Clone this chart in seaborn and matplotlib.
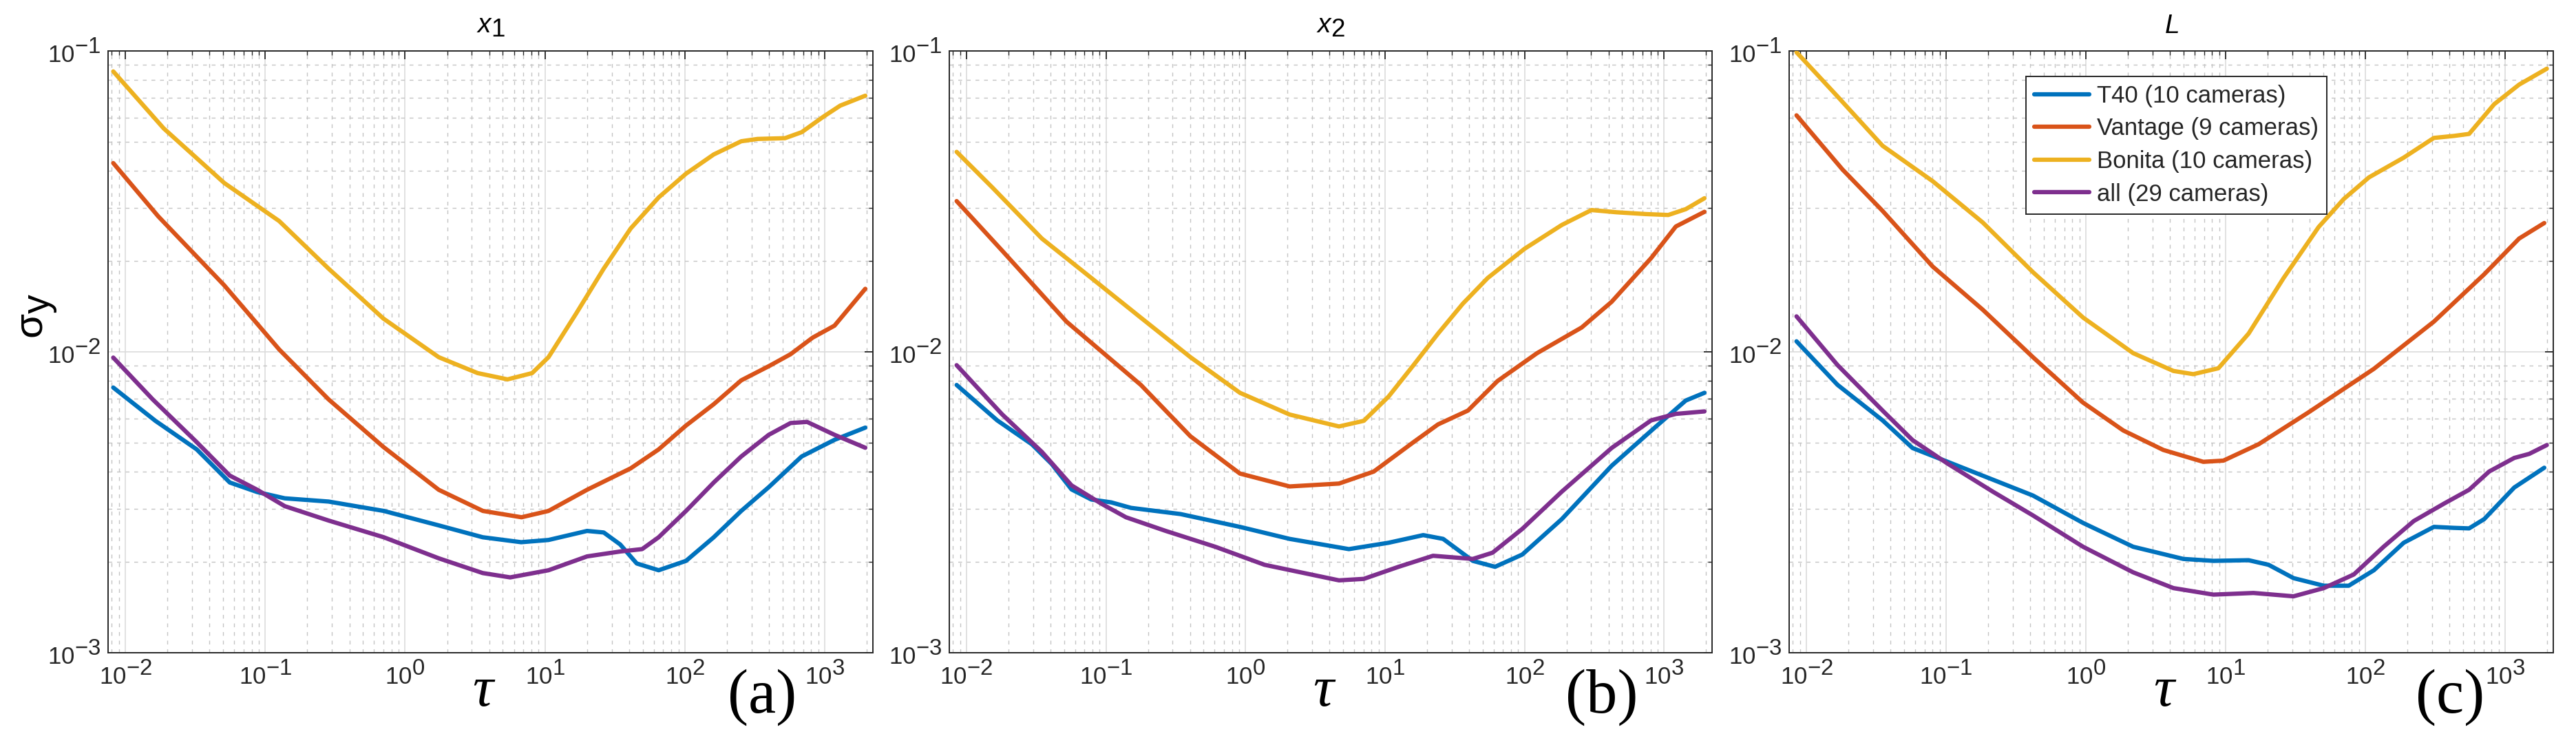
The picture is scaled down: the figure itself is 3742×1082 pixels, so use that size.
import matplotlib
matplotlib.use("Agg")
import matplotlib.pyplot as plt
import matplotlib.ticker as mticker
import numpy as np
import pandas as pd
import seaborn as sns

try:
    import matplotlib._mathtext as _mt
    _mt.SHRINK_FACTOR = 0.95
except Exception:
    pass

# ---------------- data ----------------
series_names = ["T40 (10 cameras)", "Vantage (9 cameras)", "Bonita (10 cameras)", "all (29 cameras)"]
panel_titles = [r"$\mathit{x}_{\mathit{1}}$", r"$\mathit{x}_{\mathit{2}}$", r"$\mathit{L}$"]
panel_tags = ["(a)", "(b)", "(c)"]
ytick_values = [1e-3, 1e-2, 1e-1]
xtick_values = [1e-2, 1e-1, 1e0, 1e1, 1e2, 1e3]

# panel (a): x1
tau_x1_T40 = [0.0082, 0.0164, 0.0324, 0.0558, 0.0877, 0.138, 0.284, 0.704, 1.74, 3.59, 6.76, 10.6, 20, 26.3, 34.5, 45.3, 65, 102, 161, 253, 398, 684, 1175, 1950]
sig_x1_T40 = [0.00761, 0.0059, 0.00474, 0.00368, 0.00342, 0.00326, 0.00318, 0.00296, 0.00265, 0.00242, 0.00233, 0.00237, 0.00254, 0.00251, 0.00229, 0.00198, 0.00188, 0.00202, 0.00242, 0.00296, 0.00355, 0.00449, 0.0051, 0.0056]
tau_x1_Vantage = [0.0082, 0.0172, 0.051, 0.126, 0.284, 0.70, 1.74, 3.6, 6.8, 10.6, 20, 41, 65, 102, 161, 253, 400, 570, 820, 1175, 1950]
sig_x1_Vantage = [0.0424, 0.0282, 0.01663, 0.01018, 0.00695, 0.00483, 0.00348, 0.00296, 0.00282, 0.00296, 0.00348, 0.0041, 0.00474, 0.00569, 0.0067, 0.00804, 0.00897, 0.00982, 0.01115, 0.01222, 0.0162]
tau_x1_Bonita = [0.0082, 0.0188, 0.051, 0.126, 0.284, 0.70, 1.74, 3.3, 5.4, 8.1, 10.6, 16.7, 26.3, 41, 65, 102, 161, 253, 331, 520, 684, 980, 1290, 1950]
sig_x1_Bonita = [0.0855, 0.0553, 0.0364, 0.0272, 0.0189, 0.0129, 0.0096, 0.0085, 0.0081, 0.0085, 0.0096, 0.0134, 0.0189, 0.0257, 0.0326, 0.0391, 0.0453, 0.0501, 0.051, 0.0513, 0.0537, 0.0605, 0.0658, 0.071]
tau_x1_all = [0.0082, 0.0157, 0.0324, 0.0558, 0.0877, 0.138, 0.284, 0.704, 1.74, 3.59, 5.64, 10.6, 20, 34.5, 49.5, 65, 102, 161, 253, 398, 570, 748, 1175, 1950]
sig_x1_all = [0.00957, 0.00695, 0.00501, 0.00388, 0.00348, 0.00307, 0.00275, 0.00242, 0.00206, 0.00184, 0.00178, 0.00188, 0.00209, 0.00217, 0.00221, 0.00242, 0.00296, 0.00368, 0.00449, 0.0053, 0.0058, 0.00585, 0.0053, 0.0048]

# panel (b): x2
tau_x2_T40 = [0.0085, 0.0166, 0.0294, 0.0408, 0.0566, 0.0785, 0.109, 0.151, 0.342, 0.912, 2.07, 5.51, 10.6, 18.8, 26.1, 42.6, 61.5, 96.4, 185, 421, 877, 1432, 1950]
sig_x2_T40 = [0.00776, 0.00592, 0.00493, 0.00424, 0.00349, 0.00323, 0.00316, 0.00303, 0.00289, 0.00262, 0.00239, 0.00221, 0.00232, 0.00246, 0.00239, 0.00202, 0.00193, 0.00212, 0.00278, 0.00418, 0.00565, 0.00689, 0.00731]
tau_x2_Vantage = [0.0085, 0.018, 0.0521, 0.178, 0.403, 0.912, 2.07, 4.68, 8.3, 16, 24, 39.3, 64.1, 123, 257, 421, 809, 1216, 1950]
sig_x2_Vantage = [0.0317, 0.0217, 0.0126, 0.00776, 0.00524, 0.00394, 0.00357, 0.00365, 0.0040, 0.00501, 0.00574, 0.00638, 0.0080, 0.0099, 0.01205, 0.01466, 0.0205, 0.0261, 0.0292]
tau_x2_Bonita = [0.0085, 0.0153, 0.0347, 0.0785, 0.178, 0.403, 0.912, 2.07, 4.68, 7.05, 10.6, 16, 24, 36.1, 54.5, 100, 185, 302, 457, 741, 1072, 1432, 1950]
sig_x2_Bonita = [0.0462, 0.0352, 0.0238, 0.0176, 0.01298, 0.0096, 0.00731, 0.00619, 0.00565, 0.0059, 0.0071, 0.00903, 0.0115, 0.01445, 0.0176, 0.0220, 0.0264, 0.0296, 0.0291, 0.0287, 0.0285, 0.0298, 0.0324]
tau_x2_all = [0.0085, 0.018, 0.0347, 0.0566, 0.0925, 0.139, 0.268, 0.607, 1.37, 4.68, 7.05, 12.5, 22.1, 42.6, 59, 96.4, 185, 421, 809, 1216, 1950]
sig_x2_all = [0.00903, 0.0062, 0.00465, 0.0036, 0.00313, 0.00282, 0.00254, 0.00225, 0.00196, 0.00174, 0.00176, 0.00193, 0.0021, 0.00205, 0.00215, 0.00258, 0.00343, 0.00479, 0.00592, 0.00622, 0.00634]

# panel (c): L
tau_L_T40 = [0.0085, 0.0167, 0.0351, 0.0575, 0.1026, 0.216, 0.418, 0.955, 2.18, 4.98, 8.17, 14.6, 20.3, 30.6, 50.4, 76, 115, 188, 309, 431, 552, 708, 1161, 1905]
sig_L_T40 = [0.01084, 0.00777, 0.00592, 0.00479, 0.00431, 0.00376, 0.00333, 0.0027, 0.00225, 0.00205, 0.00202, 0.00203, 0.00196, 0.00177, 0.00167, 0.00167, 0.00188, 0.00232, 0.00262, 0.0026, 0.00259, 0.00278, 0.00354, 0.00412]
tau_L_Vantage = [0.0085, 0.0181, 0.0351, 0.0802, 0.183, 0.418, 0.955, 1.85, 3.58, 6.92, 9.64, 17.2, 39.3, 115, 309, 708, 1259, 1905]
sig_L_Vantage = [0.0611, 0.0404, 0.0294, 0.0192, 0.0138, 0.0096, 0.00678, 0.00548, 0.00472, 0.00431, 0.00435, 0.00493, 0.0063, 0.00878, 0.0126, 0.0181, 0.0238, 0.0268]
tau_L_Bonita = [0.0085, 0.0167, 0.0351, 0.0802, 0.183, 0.418, 0.955, 2.18, 4.23, 5.87, 8.87, 14.6, 26, 46.3, 70, 106, 188, 309, 431, 552, 834, 1259, 1986]
sig_L_Bonita = [0.099, 0.0706, 0.0484, 0.0369, 0.0269, 0.0184, 0.013, 0.0099, 0.00864, 0.00843, 0.00882, 0.0115, 0.0176, 0.026, 0.0322, 0.038, 0.0442, 0.0514, 0.0522, 0.053, 0.0665, 0.0773, 0.0873]
tau_L_all = [0.0085, 0.0167, 0.0351, 0.0575, 0.1026, 0.216, 0.418, 0.955, 2.18, 4.23, 8.17, 15.8, 30.6, 50.4, 82.6, 135, 222, 365, 552, 767, 1161, 1486, 1986]
sig_L_all = [0.01312, 0.00904, 0.00638, 0.00509, 0.00425, 0.00343, 0.00286, 0.00225, 0.00185, 0.00164, 0.00156, 0.00158, 0.00154, 0.00164, 0.00182, 0.00225, 0.00274, 0.00313, 0.00348, 0.004, 0.00444, 0.00458, 0.0049]

panels = [
    [(tau_x1_T40, sig_x1_T40), (tau_x1_Vantage, sig_x1_Vantage), (tau_x1_Bonita, sig_x1_Bonita), (tau_x1_all, sig_x1_all)],
    [(tau_x2_T40, sig_x2_T40), (tau_x2_Vantage, sig_x2_Vantage), (tau_x2_Bonita, sig_x2_Bonita), (tau_x2_all, sig_x2_all)],
    [(tau_L_T40, sig_L_T40), (tau_L_Vantage, sig_L_Vantage), (tau_L_Bonita, sig_L_Bonita), (tau_L_all, sig_L_all)],
]

colors = ["#0072BD", "#D95319", "#EDB120", "#7E2F8E"]

# ---------------- style ----------------
sns.set_style("white")
plt.rcParams["font.family"] = ["Liberation Sans", "DejaVu Sans"]
plt.rcParams["mathtext.fontset"] = "custom"
plt.rcParams["mathtext.rm"] = "Liberation Sans"
plt.rcParams["mathtext.it"] = "Liberation Sans:italic"
plt.rcParams["mathtext.bf"] = "Liberation Sans:bold"
plt.rcParams["mathtext.sf"] = "Liberation Sans"

W, H = 3742, 1082
fig = plt.figure(figsize=(W / 100, H / 100), dpi=100)
fig.patch.set_facecolor("white")

ax_left_px = [157, 1379, 2599]
ax_width_px = [1111, 1108, 1110]
ax_top_px, ax_bot_px = 74, 948
tag_x = [0.81, 0.808, 0.82]

dark = "#262626"
serif = ["Liberation Serif", "DejaVu Serif"]
LW = 4.5

def log_fmt(v, pos):
    e = int(round(np.log10(v)))
    return r"$\mathregular{10^{%d}}$" % e

axes = []
for i in range(3):
    rect = [ax_left_px[i] / W, (H - ax_bot_px) / H, ax_width_px[i] / W, (ax_bot_px - ax_top_px) / H]
    ax = fig.add_axes(rect)
    axes.append(ax)
    ax.set_xscale("log")
    ax.set_yscale("log")

    frames = []
    for name, (t, s) in zip(series_names, panels[i]):
        frames.append(pd.DataFrame({"tau": t, "sigma": s, "series": name}))
    df = pd.concat(frames, ignore_index=True)

    sns.lineplot(data=df, x="tau", y="sigma", hue="series", hue_order=series_names,
                 palette=colors, estimator=None, sort=False, linewidth=LW,
                 legend=(i == 2), ax=ax, zorder=3,
                 solid_joinstyle="round", solid_capstyle="round")

    ax.set_xlim(0.00753, 2210)
    ax.set_ylim(1e-3, 1e-1)

    ax.xaxis.set_major_locator(mticker.FixedLocator(xtick_values))
    ax.yaxis.set_major_locator(mticker.FixedLocator(ytick_values))
    ax.xaxis.set_minor_locator(mticker.LogLocator(base=10, subs=np.arange(2, 10), numticks=50))
    ax.yaxis.set_minor_locator(mticker.LogLocator(base=10, subs=np.arange(2, 10), numticks=50))
    ax.xaxis.set_major_formatter(mticker.FuncFormatter(log_fmt))
    ax.yaxis.set_major_formatter(mticker.FuncFormatter(log_fmt))
    ax.xaxis.set_minor_formatter(mticker.NullFormatter())
    ax.yaxis.set_minor_formatter(mticker.NullFormatter())

    ax.set_axisbelow(True)
    ax.grid(True, which="major", color="#dcdcdc", linewidth=1.2, linestyle="-")
    ax.grid(True, which="minor", color="#c4c4c4", linewidth=1.0, linestyle=(0, (4, 5)))

    ax.tick_params(which="both", direction="in", top=True, right=True, color=dark,
                   labelcolor=dark, labelsize=25)
    ax.tick_params(which="major", length=8.5, width=1.3)
    ax.tick_params(which="minor", length=4.5, width=1.0)
    ax.tick_params(axis="x", which="major", pad=9)
    ax.tick_params(axis="y", which="major", pad=8)
    for sp in ax.spines.values():
        sp.set_color(dark)
        sp.set_linewidth(1.4)
        sp.set_visible(True)

    ax.set_title(panel_titles[i], fontsize=28, pad=19, color="black")

    ax.set_xlabel("τ", fontsize=60, fontfamily=serif, fontstyle="italic", color="black")
    ax.xaxis.set_label_coords(0.49, -0.088)
    ax.xaxis.label.set_va("baseline")
    if i == 0:
        ax.set_ylabel(r"$\mathrm{σ}_{\mathrm{y}}$", fontsize=42, color="black")
        ax.yaxis.set_label_coords(-0.064, 0.5595)
    else:
        ax.set_ylabel("")

    ax.text(tag_x[i], -0.0995, panel_tags[i], transform=ax.transAxes, ha="left",
            va="baseline", fontsize=65, fontfamily=serif, color="black")

leg = axes[2].legend(loc="upper left", bbox_to_anchor=(0.31, 0.958), borderaxespad=0,
                     fontsize=25, frameon=True, fancybox=False, framealpha=1,
                     edgecolor=dark, handlelength=2.3, handletextpad=0.3,
                     labelspacing=0.42, borderpad=0.35, title=None)
leg.get_frame().set_linewidth(1.4)
for line in leg.get_lines():
    line.set_linewidth(LW)

fig.savefig("out.png", dpi=100, facecolor="white")
